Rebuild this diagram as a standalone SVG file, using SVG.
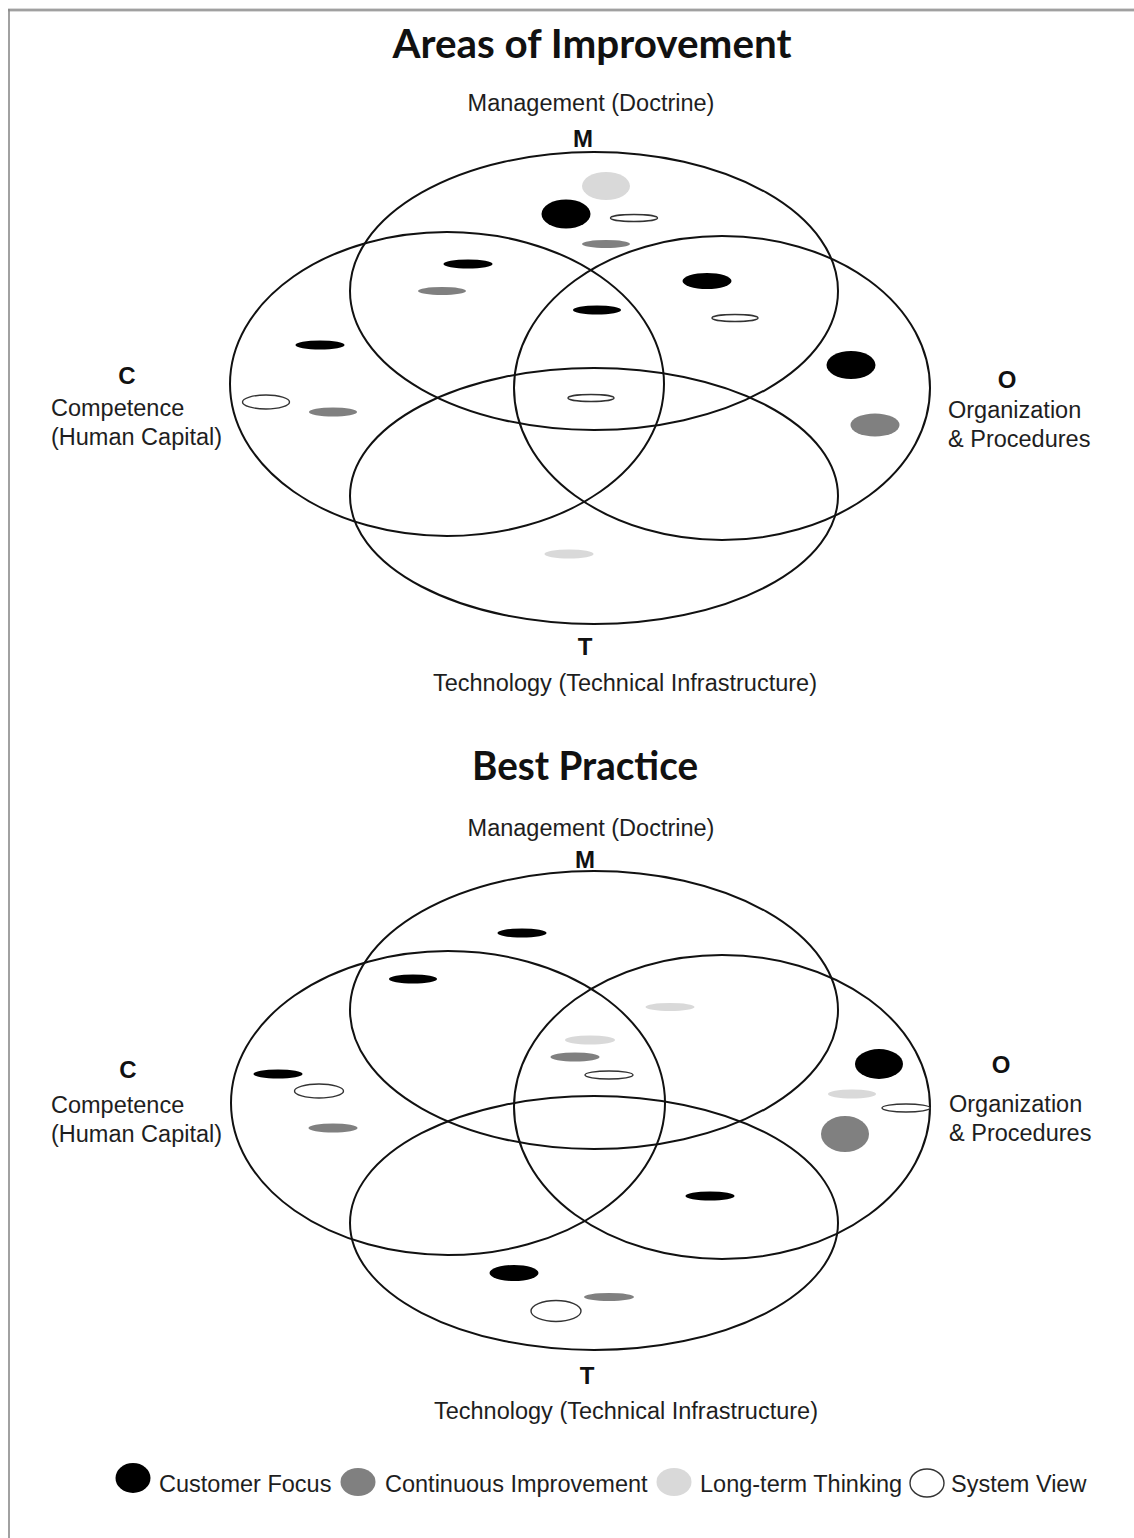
<svg xmlns="http://www.w3.org/2000/svg" width="1134" height="1538" viewBox="0 0 1134 1538">
  <style>
    .set { fill: none; stroke: #111; stroke-width: 2; }
    .b { fill: #000; }
    .g { fill: #808080; }
    .lg { fill: #d9d9d9; }
    .w { fill: #fff; stroke: #333; stroke-width: 1.4; }
    .lbl { font-family: "Liberation Sans", Arial, sans-serif; font-size: 23.5px; fill: #1e1e1e; }
    .key { font-family: "Liberation Sans", Arial, sans-serif; font-size: 24px; font-weight: bold; fill: #111; text-anchor: middle; }
    .title { font-family: Lato, "Open Sans", sans-serif; font-size: 40px; font-weight: bold; fill: #111; text-anchor: middle; }
    .mid { text-anchor: middle; }
  </style>

  <rect x="0" y="0" width="1134" height="1538" fill="#fff"/>

  <!-- frame -->
  <g id="frame">
    <line x1="8" y1="10" x2="1134" y2="10" stroke="#b4b4b4" stroke-width="3"/>
    <line x1="8" y1="10" x2="1134" y2="10" stroke="#8c8c8c" stroke-width="1"/>
    <line x1="9" y1="9" x2="9" y2="1538" stroke="#8a8a8a" stroke-width="1.6"/>
  </g>

  <!-- ===== Areas of Improvement ===== -->
  <g id="areas">
    <text class="title" x="592" y="58" textLength="399" lengthAdjust="spacingAndGlyphs">Areas of Improvement</text>

    <g id="areas-M">
      <ellipse class="set" cx="594" cy="291" rx="244" ry="139"/>
      <text class="lbl mid" x="591" y="111">Management (Doctrine)</text>
      <text class="key" x="583" y="147">M</text>
    </g>
    <g id="areas-C">
      <ellipse class="set" cx="447" cy="384" rx="217" ry="152"/>
      <text class="key" x="127" y="384">C</text>
      <text class="lbl" x="51" y="416">Competence</text>
      <text class="lbl" x="51" y="445">(Human Capital)</text>
    </g>
    <g id="areas-O">
      <ellipse class="set" cx="722" cy="388" rx="208" ry="152"/>
      <text class="key" x="1007" y="388">O</text>
      <text class="lbl" x="948" y="418">Organization</text>
      <text class="lbl" x="948" y="447">&amp; Procedures</text>
    </g>
    <g id="areas-T">
      <ellipse class="set" cx="594" cy="496" rx="244" ry="128"/>
      <text class="key" x="585" y="655">T</text>
      <text class="lbl mid" x="625" y="691">Technology (Technical Infrastructure)</text>
    </g>

    <g id="areas-marks">
      <ellipse class="lg" cx="606" cy="186" rx="24" ry="14"/>
      <ellipse class="b" cx="566" cy="214" rx="24.5" ry="14.5"/>
      <ellipse class="w" cx="634" cy="218" rx="23.5" ry="3.5"/>
      <ellipse class="g" cx="606" cy="244" rx="24" ry="4"/>
      <ellipse class="b" cx="468" cy="264" rx="24.5" ry="4.5"/>
      <ellipse class="g" cx="442" cy="291" rx="24" ry="4"/>
      <ellipse class="b" cx="597" cy="310" rx="24" ry="4.5"/>
      <ellipse class="b" cx="707" cy="281" rx="24.5" ry="8"/>
      <ellipse class="w" cx="735" cy="318" rx="23" ry="3.5"/>
      <ellipse class="b" cx="320" cy="345" rx="24.5" ry="4.5"/>
      <ellipse class="b" cx="851" cy="365" rx="24.5" ry="14"/>
      <ellipse class="w" cx="266" cy="402" rx="23.5" ry="7"/>
      <ellipse class="g" cx="333" cy="412" rx="24" ry="4.5"/>
      <ellipse class="w" cx="591" cy="398" rx="23" ry="3.5"/>
      <ellipse class="g" cx="875" cy="425" rx="24.5" ry="11.5"/>
      <ellipse class="lg" cx="569" cy="554" rx="24.5" ry="4.5"/>
    </g>
  </g>

  <!-- ===== Best Practice ===== -->
  <g id="best">
    <text class="title" x="585" y="780" textLength="226" lengthAdjust="spacingAndGlyphs">Best Practice</text>

    <g id="best-M">
      <ellipse class="set" cx="594" cy="1010" rx="244" ry="139"/>
      <text class="lbl mid" x="591" y="836">Management (Doctrine)</text>
      <text class="key" x="585" y="868">M</text>
    </g>
    <g id="best-C">
      <ellipse class="set" cx="448" cy="1103" rx="217" ry="152"/>
      <text class="key" x="128" y="1078">C</text>
      <text class="lbl" x="51" y="1113">Competence</text>
      <text class="lbl" x="51" y="1142">(Human Capital)</text>
    </g>
    <g id="best-O">
      <ellipse class="set" cx="722" cy="1107" rx="208" ry="152"/>
      <text class="key" x="1001" y="1073">O</text>
      <text class="lbl" x="949" y="1112">Organization</text>
      <text class="lbl" x="949" y="1141">&amp; Procedures</text>
    </g>
    <g id="best-T">
      <ellipse class="set" cx="594" cy="1223" rx="244" ry="127"/>
      <text class="key" x="587" y="1384">T</text>
      <text class="lbl mid" x="626" y="1419">Technology (Technical Infrastructure)</text>
    </g>

    <g id="best-marks">
      <ellipse class="b" cx="522" cy="933" rx="24.5" ry="4.5"/>
      <ellipse class="b" cx="413" cy="979" rx="24" ry="4.5"/>
      <ellipse class="lg" cx="670" cy="1007" rx="24.5" ry="4"/>
      <ellipse class="lg" cx="590" cy="1040" rx="25" ry="4.5"/>
      <ellipse class="g" cx="575" cy="1057" rx="24.5" ry="4.5"/>
      <ellipse class="w" cx="609" cy="1075" rx="24" ry="4"/>
      <ellipse class="b" cx="879" cy="1064" rx="24" ry="15"/>
      <ellipse class="lg" cx="852" cy="1094" rx="24" ry="4.5"/>
      <ellipse class="w" cx="906" cy="1108" rx="24" ry="4"/>
      <ellipse class="g" cx="845" cy="1134" rx="24" ry="18"/>
      <ellipse class="b" cx="278" cy="1074" rx="24.5" ry="4.5"/>
      <ellipse class="w" cx="319" cy="1091" rx="24.5" ry="7"/>
      <ellipse class="g" cx="333" cy="1128" rx="24.5" ry="4.5"/>
      <ellipse class="b" cx="710" cy="1196" rx="24.5" ry="4.5"/>
      <ellipse class="b" cx="514" cy="1273" rx="24.5" ry="8"/>
      <ellipse class="g" cx="609" cy="1297" rx="25" ry="4"/>
      <ellipse class="w" cx="556" cy="1311" rx="25" ry="10.5"/>
    </g>
  </g>

  <!-- legend -->
  <g id="legend">
    <ellipse class="b" cx="133" cy="1478" rx="17.5" ry="15"/>
    <text class="lbl" x="159" y="1492">Customer Focus</text>
    <ellipse class="g" cx="358" cy="1482" rx="17.5" ry="14"/>
    <text class="lbl" x="385" y="1492">Continuous Improvement</text>
    <ellipse class="lg" cx="674" cy="1482" rx="17.5" ry="14"/>
    <text class="lbl" x="700" y="1492">Long-term Thinking</text>
    <ellipse class="w" cx="927" cy="1483" rx="17" ry="14"/>
    <text class="lbl" x="951" y="1492">System View</text>
  </g>
</svg>
